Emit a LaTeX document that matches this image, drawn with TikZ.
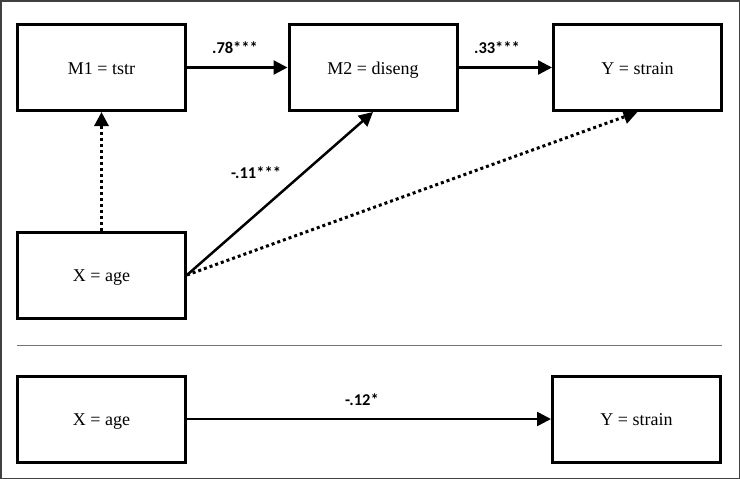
\documentclass[tikz,border=0pt]{standalone}
\usepackage{fontspec}
\setmainfont{Liberation Serif}
\newfontfamily\labfont{Carlito}
\usetikzlibrary{arrows.meta}
\begin{document}
\begin{tikzpicture}[x=1pt,y=-1pt,
  var/.style={draw=black,line width=3pt,minimum width=168pt,minimum height=86pt,inner sep=0pt,
    text height=14pt,text depth=1pt,font=\fontsize{18}{21}\selectfont},
  coef/.style={font=\labfont\bfseries\fontsize{16.5}{19}\selectfont,inner sep=0pt},
  arr/.style={line width=2.5pt,-{Triangle[length=14pt,width=14pt]}},
  dotarr/.style={line width=3pt,dash pattern=on 3pt off 3pt,-{Triangle[length=14pt,width=14pt]}},
  rule/.style={draw=black!55,line width=1.2pt}]
\useasboundingbox (0,0) rectangle (740,479);
\draw[draw=black!75,line width=1.5pt] (0.75,0.75) rectangle (739.25,478.25);
\node[var] (M1) at (101.5,67.5) {M1 = tstr};
\node[var] (M2) at (373,67.5) {M2 = diseng};
\node[var] (Y) at (637.5,67.5) {Y = strain};
\node[var] (X) at (101.5,275) {X = age};
\node[var] (X2) at (101.5,419) {X = age};
\node[var] (Y2) at (636.5,419) {Y = strain};
\coordinate (s1) at (17,345.5);
\coordinate (s2) at (722,345.5);
\draw[rule] (s1) -- (s2);
\draw[arr] (M1.east) -- (M2.west);
\draw[arr] (M2.east) -- (Y.west);
\draw[dotarr] (X.north) -- (M1.south);
\draw[arr] (X.east) -- (M2.south);
\draw[dotarr] (X.east) -- (Y.south);
\draw[arr] (X2.east) -- (Y2.west);
\node[coef] (c1) at (235,48) {.78***};
\node[coef] (c2) at (497,48) {.33***};
\node[coef] (c3) at (256,173) {-.11***};
\node[coef] (c4) at (362,400) {-.12*};
\end{tikzpicture}
\end{document}
